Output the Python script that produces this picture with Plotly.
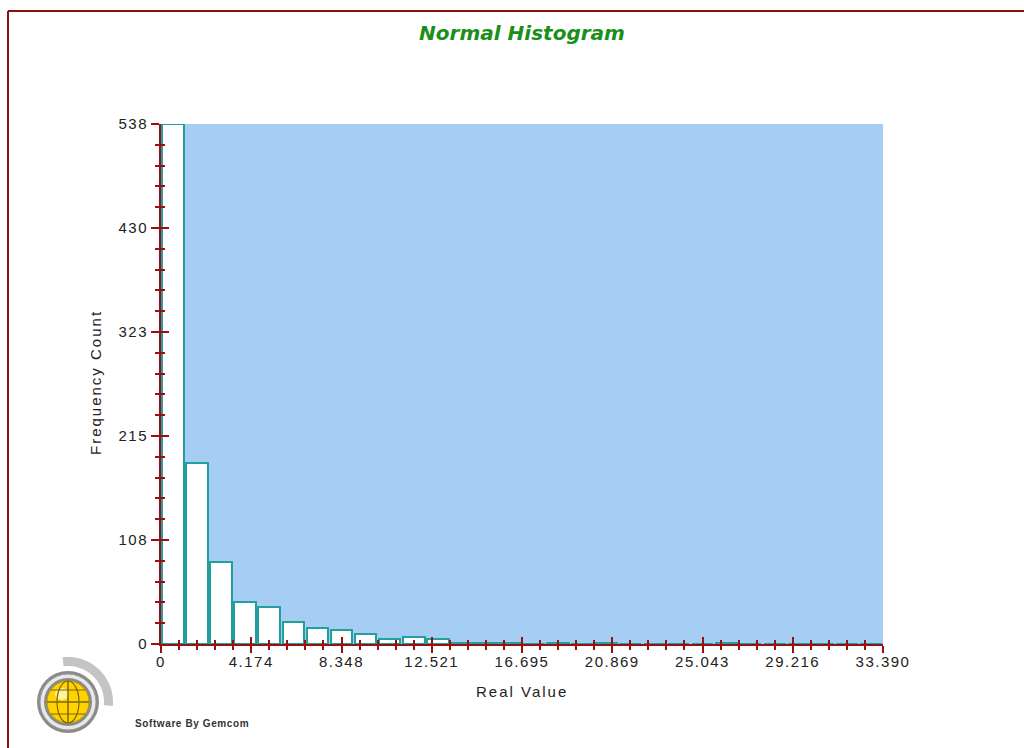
import numpy as np
import plotly.graph_objects as go

# ---------------- data ----------------
x_max = 33.39
n_bins = 30
counts = [538, 187, 85, 43, 38, 23, 17, 15, 10, 5, 7, 5, 1, 1, 1, 0, 1, 0, 1, 0,
          0, 0, 0, 1, 0, 0, 0, 0, 0, 0]
y_max = 538
x_tick_vals = [0, 4.174, 8.348, 12.521, 16.695, 20.869, 25.043, 29.216, 33.390]
x_tick_text = ["0", "4.174", "8.348", "12.521", "16.695", "20.869", "25.043", "29.216", "33.390"]
y_tick_vals = [0, 107.6, 215.2, 322.8, 430.4, 538]
y_tick_text = ["0", "108", "215", "323", "430", "538"]

bin_w = x_max / n_bins
centers = [(i + 0.5) * bin_w for i in range(n_bins)]

# ---------------- styles ----------------
W, H = 1024, 748
L, R, T, B = 161, 883, 124, 644
AXC = "#9a0f0f"
TEAL = "#22a09b"
BG = "#a6cef5"


def sp(t, ls="letter-spacing:1.5px"):
    return f'<span style="{ls}">{t}</span>'


def px(x):
    return (x - L) / (R - L)


def py(y):
    return (B - y) / (B - T)


fig = go.Figure()
fig.add_trace(go.Bar(
    x=centers, y=counts, width=bin_w * 0.9,
    marker=dict(color="white", line=dict(color=TEAL, width=2)),
    hoverinfo="x+y", showlegend=False,
))
# invisible trace to draw the inner tick axes
fig.add_trace(go.Scatter(x=[None], y=[None], xaxis="x2", yaxis="y2",
                         showlegend=False, hoverinfo="skip"))

tickfont = dict(family="Liberation Sans, Arial", size=15, color="#222222")

fig.update_layout(
    width=W, height=H,
    margin=dict(l=L, r=W - R, t=T, b=H - B),
    paper_bgcolor="white", plot_bgcolor=BG,
    bargap=0,
    xaxis=dict(range=[0, x_max], tickmode="array", tickvals=x_tick_vals,
               ticktext=[sp(t) for t in x_tick_text],
               ticks="outside", ticklen=7, tickwidth=2, tickcolor=AXC,
               ticklabelstandoff=-4,
               minor=dict(tickmode="linear", tick0=0, dtick=x_max / 40, ticks="outside",
                          ticklen=4, tickwidth=2, tickcolor=AXC, showgrid=False),
               showline=True, linecolor=AXC, linewidth=2, showgrid=False,
               zeroline=False, tickfont=tickfont, fixedrange=True),
    yaxis=dict(range=[0, y_max], tickmode="array", tickvals=y_tick_vals,
               ticktext=[sp(t) for t in y_tick_text],
               ticks="outside", ticklen=8, tickwidth=2, tickcolor=AXC,
               minor=dict(tickmode="linear", tick0=0, dtick=y_max / 25, ticks="outside",
                          ticklen=4, tickwidth=2, tickcolor=AXC, showgrid=False),
               showline=True, linecolor=AXC, linewidth=2, showgrid=False,
               zeroline=False, tickfont=tickfont, fixedrange=True),
    xaxis2=dict(range=[0, x_max], overlaying="x", anchor="y2", side="bottom",
                tickmode="array", tickvals=x_tick_vals, showticklabels=False,
                ticks="inside", ticklen=7, tickwidth=2, tickcolor=AXC,
                minor=dict(tickmode="linear", tick0=0, dtick=x_max / 40, ticks="inside",
                           ticklen=4, tickwidth=2, tickcolor=AXC, showgrid=False),
                showline=False, showgrid=False, zeroline=False, fixedrange=True),
    yaxis2=dict(range=[0, y_max], overlaying="y", anchor="x2", side="left",
                tickmode="array", tickvals=y_tick_vals, showticklabels=False,
                ticks="inside", ticklen=8, tickwidth=2, tickcolor=AXC,
                minor=dict(tickmode="linear", tick0=0, dtick=y_max / 25, ticks="inside",
                           ticklen=4, tickwidth=2, tickcolor=AXC, showgrid=False),
                showline=False, showgrid=False, zeroline=False, fixedrange=True),
    title=dict(text="<b><i>Normal Histogram</i></b>", x=0.5, xref="paper",
               y=1 - 33 / H, yref="container", yanchor="middle", xanchor="center",
               font=dict(family="DejaVu Sans, Verdana", size=20, color="#1a8f1a")),
)

annos = [
    dict(text=sp("Real Value", "letter-spacing:2px"), x=px(522), y=py(691), xref="paper", yref="paper",
         showarrow=False, font=tickfont, xanchor="center", yanchor="middle"),
    dict(text=sp("Frequency Count", "letter-spacing:2px"), x=px(95), y=py(383), xref="paper", yref="paper",
         showarrow=False, font=tickfont, textangle=-90, xanchor="center", yanchor="middle"),
    dict(text=sp("<b>Software By Gemcom</b>", "letter-spacing:0.6px"), x=px(133), y=py(723),
         xref="paper", yref="paper", showarrow=False, xanchor="left", yanchor="middle",
         font=dict(family="Liberation Sans, Arial", size=10, color="#333333")),
]
fig.update_layout(annotations=annos)

shapes = []
# outer frame (top and left visible)
shapes.append(dict(type="line", xref="paper", yref="paper", x0=px(8), y0=py(11), x1=px(1030), y1=py(11),
                   line=dict(color="#8b1010", width=2)))
shapes.append(dict(type="line", xref="paper", yref="paper", x0=px(8), y0=py(11), x1=px(8), y1=py(760),
                   line=dict(color="#8b1010", width=2)))

# logo: gray arc
cx, cy = 68, 702
ang = np.linspace(np.radians(97), np.radians(-5), 30)
r_out, r_in = 45, 36
pts_out = [(cx + r_out * np.cos(a), cy - r_out * np.sin(a)) for a in ang]
pts_in = [(cx + r_in * np.cos(a), cy - r_in * np.sin(a)) for a in ang[::-1]]
path = "M " + " L ".join(f"{px(x):.5f},{py(y):.5f}" for x, y in pts_out + pts_in) + " Z"
shapes.append(dict(type="path", xref="paper", yref="paper", path=path,
                   fillcolor="#c4c4c4", line=dict(width=0)))


def circ(r, fill, lc=None, lw=0):
    return dict(type="circle", xref="paper", yref="paper",
                x0=px(cx - r), x1=px(cx + r), y0=py(cy + r), y1=py(cy - r),
                fillcolor=fill, line=dict(color=lc or fill, width=lw))


shapes.append(circ(31, "#8a8a8a"))
shapes.append(circ(28, "#e8e8e8", "#9a9a9a", 1))
shapes.append(circ(24, "#8a8a8a"))
shapes.append(circ(21, "#ffd200", "#c8a000", 1))
# highlight
shapes.append(dict(type="circle", xref="paper", yref="paper",
                   x0=px(cx - 13), x1=px(cx + 1), y0=py(cy - 2), y1=py(cy - 14),
                   fillcolor="#fff2a0", line=dict(width=0)))
# grid lines
gc = "#7a6a00"
shapes.append(dict(type="line", xref="paper", yref="paper", x0=px(cx), x1=px(cx), y0=py(cy - 21), y1=py(cy + 21),
                   line=dict(color=gc, width=1.5)))
shapes.append(dict(type="line", xref="paper", yref="paper", x0=px(cx - 21), x1=px(cx + 21), y0=py(cy), y1=py(cy),
                   line=dict(color=gc, width=1.5)))
shapes.append(dict(type="line", xref="paper", yref="paper", x0=px(cx - 17), x1=px(cx + 17), y0=py(cy - 12), y1=py(cy - 12),
                   line=dict(color=gc, width=1.2)))
shapes.append(dict(type="line", xref="paper", yref="paper", x0=px(cx - 17), x1=px(cx + 17), y0=py(cy + 12), y1=py(cy + 12),
                   line=dict(color=gc, width=1.2)))
shapes.append(dict(type="circle", xref="paper", yref="paper",
                   x0=px(cx - 11), x1=px(cx + 11), y0=py(cy + 21), y1=py(cy - 21),
                   line=dict(color=gc, width=1.2)))
fig.update_layout(shapes=shapes)

fig.write_html("out.html")
